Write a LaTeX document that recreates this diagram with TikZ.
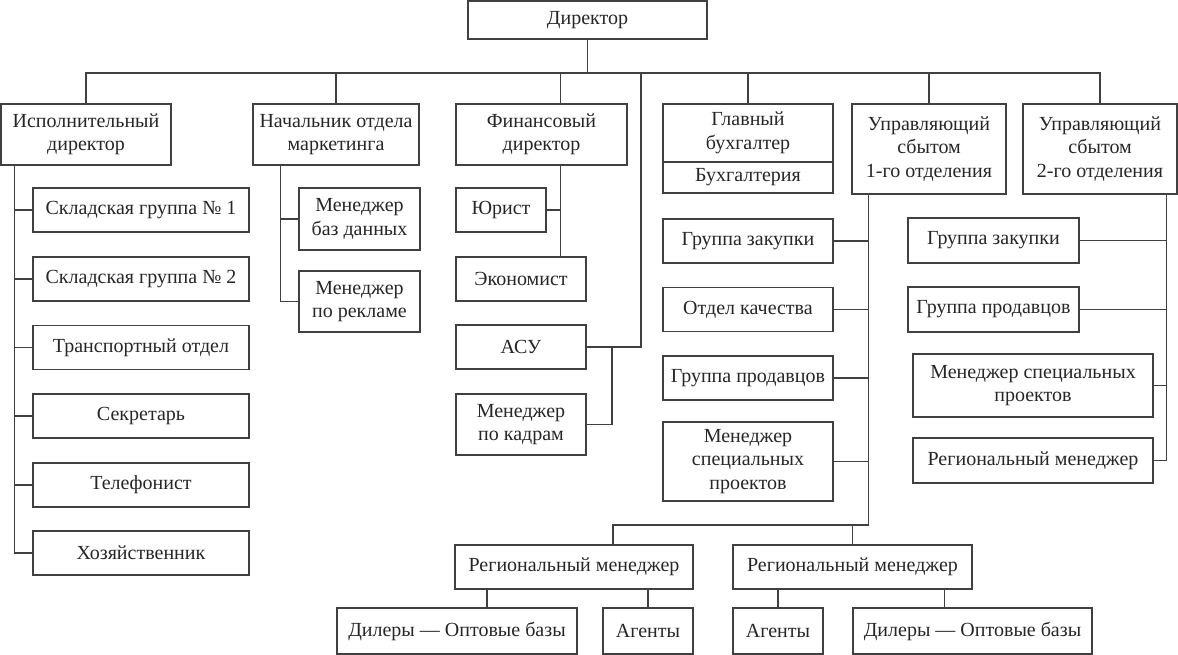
\documentclass[tikz,border=0pt]{standalone}
\usepackage{fontspec}
\setmainfont{Liberation Serif}
\usepackage{tikz}
\tikzset{bx/.style={draw=black!75,line width=1.2pt,inner sep=0pt,align=center,text=black!85},
ln/.style={draw=black!75,line width=1.2pt},
lbox/.style={bx,minimum width=216pt,minimum height=44pt},
fbox/.style={bx,minimum width=130pt,minimum height=44pt},
gbox/.style={bx,minimum width=170pt,minimum height=44pt}}

\begin{document}
\begin{tikzpicture}[x=1pt,y=-1pt,font=\fontsize{20}{23.5}\selectfont]
\useasboundingbox(0,0)rectangle(1178,655);
% top level
\node[bx,minimum width=239pt,minimum height=38pt](dir)at(587.5,20){Директор};
\node[bx,minimum width=170pt,minimum height=61pt](isp)at(86,134.5){Исполнительный\\директор};
\node[bx,minimum width=166pt,minimum height=61pt](mark)at(336,134.5){Начальник отдела\\маркетинга};
\node[bx,minimum width=171pt,minimum height=61pt](fin)at(541.5,134.5){Финансовый\\директор};
\node[bx,minimum width=170pt,minimum height=58pt](glav)at(748,133){Главный\\бухгалтер};
\node[bx,minimum width=170pt,minimum height=31pt](buh)at(748,177.5){Бухгалтерия};
\node[bx,minimum width=154pt,minimum height=90pt](upr1)at(929,149){Управляющий\\сбытом\\1-го отделения};
\node[bx,minimum width=154pt,minimum height=90pt](upr2)at(1100,149){Управляющий\\сбытом\\2-го отделения};
% left column
\node[lbox](sk1)at(141,210){Складская группа № 1};
\node[lbox](sk2)at(141,279){Складская группа № 2};
\node[lbox](tr)at(141,347.5){Транспортный отдел};
\node[lbox](sekr)at(141,416){Секретарь};
\node[lbox](tel)at(141,485){Телефонист};
\node[lbox](hoz)at(141,553){Хозяйственник};
% marketing
\node[bx,minimum width=121pt,minimum height=62pt](bd)at(359.5,219){Менеджер\\баз данных};
\node[bx,minimum width=121pt,minimum height=61pt](rek)at(359.5,301.5){Менеджер\\по рекламе};
% finance
\node[bx,minimum width=90pt,minimum height=44pt](yur)at(501,210){Юрист};
\node[fbox](ekon)at(521,279){Экономист};
\node[fbox](asu)at(521,347){АСУ};
\node[fbox,minimum height=61pt](kadr)at(521,424.5){Менеджер\\по кадрам};
% accounting / sales 1
\node[gbox](zak1)at(748,241){Группа закупки};
\node[gbox](kach)at(748,309.5){Отдел качества};
\node[gbox](prod1)at(748,378){Группа продавцов};
\node[gbox,minimum height=79pt](msp1)at(748,461.5){Менеджер\\специальных\\проектов};
\node[bx,minimum width=238pt,minimum height=44pt](reg1)at(574,567){Региональный менеджер};
\node[bx,minimum width=239pt,minimum height=44pt](reg2)at(852.5,567){Региональный менеджер};
\node[bx,minimum width=240pt,minimum height=46pt](dil1)at(457,631){Дилеры — Оптовые базы};
\node[bx,minimum width=90pt,minimum height=46pt](ag1)at(648,631){Агенты};
\node[bx,minimum width=90pt,minimum height=46pt](ag2)at(778,631){Агенты};
\node[bx,minimum width=239pt,minimum height=46pt](dil2)at(972.5,631){Дилеры — Оптовые базы};
% sales 2
\node[gbox,minimum width=171pt,minimum height=45pt](zak2)at(993.5,240.5){Группа закупки};
\node[gbox,minimum width=171pt,minimum height=45pt](prod2)at(993.5,309.5){Группа продавцов};
\node[bx,minimum width=240pt,minimum height=63pt](msp2)at(1033,385.5){Менеджер специальных\\проектов};
\node[bx,minimum width=240pt,minimum height=45pt](reg3)at(1033,460.5){Региональный менеджер};
% connectors
\coordinate(bus)at(0,73);\coordinate(rbus)at(0,525);
\coordinate(ax)at(641,0);\coordinate(kx)at(612,0);
\draw[ln](dir.south)--(dir.south|-bus);
\draw[ln](isp.north)--(isp.north|-bus)--(upr2.north|-bus)--(upr2.north);
\foreach \n in {mark,glav,upr1}\draw[ln](\n.north)--(\n.north|-bus);
\coordinate(fx)at([xshift=19pt]fin.south);
\draw[ln]([xshift=19pt]fin.north)--([xshift=19pt]fin.north|-bus);
\draw[ln](fx)--(fx|-ekon.north);\draw[ln](yur.east)--(yur.east-|fx);
\draw[ln](asu.east)-|(ax|-bus);\draw[ln](kadr.east)-|(kx|-asu.east);
\coordinate(lx)at([xshift=14pt]isp.south west);
\draw[ln](lx)--(lx|-hoz.west);
\foreach \n in {sk1,sk2,tr,sekr,tel,hoz}\draw[ln](\n.west)--(\n.west-|lx);
\coordinate(mx)at([xshift=28pt]mark.south west);
\draw[ln](mx)|-(rek.west);\draw[ln](bd.west)--(bd.west-|mx);
\coordinate(gx)at([xshift=17pt]upr1.south west);\coordinate(r1x)at([xshift=39pt]reg1.north);
\draw[ln](gx)|-(r1x|-rbus)--(r1x);
\foreach \n in {zak1,kach,prod1,msp1}\draw[ln](\n.east)--(\n.east-|gx);
\draw[ln](reg2.north)--(reg2.north|-rbus);
\draw[ln](ag1.north)--(ag1.north|-reg1.south);\draw[ln](ag2.north)--(ag2.north|-reg2.south);
\draw[ln]([xshift=30pt]dil1.north)--([xshift=30pt]dil1.north|-reg1.south);
\draw[ln]([xshift=-28pt]dil2.north)--([xshift=-28pt]dil2.north|-reg2.south);
\coordinate(ux)at([xshift=-11pt]upr2.south east);
\draw[ln](ux)|-(reg3.east);
\foreach \n in {zak2,prod2,msp2}\draw[ln](\n.east)--(\n.east-|ux);
\end{tikzpicture}
\end{document}
